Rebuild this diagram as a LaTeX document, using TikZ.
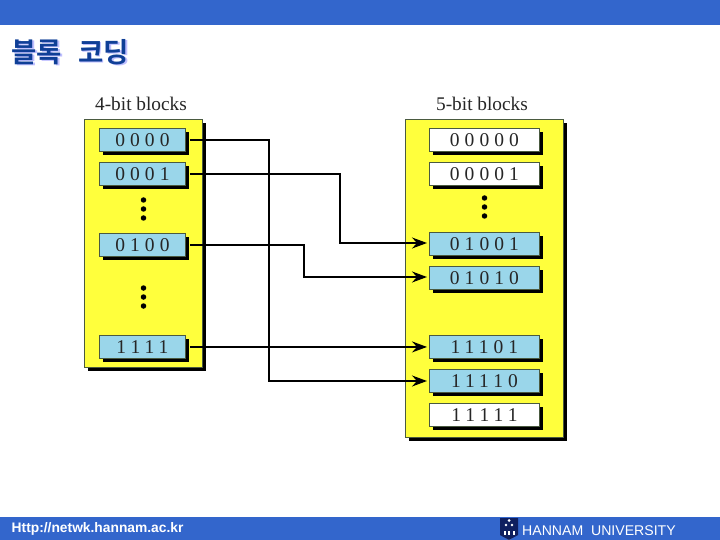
\documentclass[tikz,border=0pt]{standalone}
\usepackage{fontspec}
\setmainfont{Liberation Serif}
\setsansfont{Liberation Sans}
\newfontfamily\cjk{Noto Sans CJK KR}[BoldFont={* Bold}]
\usetikzlibrary{arrows.meta}
\definecolor{barblue}{HTML}{3366CC}
\definecolor{titleblue}{HTML}{0F3F97}
\definecolor{panelyellow}{HTML}{FFFF3C}
\definecolor{boxblue}{HTML}{9AD6EA}
\definecolor{edgegreen}{HTML}{4A5A40}
\definecolor{logonavy}{HTML}{0F1F5F}
\tikzset{
  x=1pt,y=-1pt,
  panel/.style={draw=edgegreen,line width=0.9pt,fill=panelyellow,inner sep=0pt,minimum height=#1,anchor=north west},
  bitbox/.style={draw=edgegreen,line width=0.9pt,fill=#1,inner sep=0pt,anchor=north west,minimum height=23pt,text=black!85,font=\fontsize{19.5}{19.5}\selectfont},
  shade4/.style={fill=black},
  hdr/.style={inner sep=0pt,text=black!85,font=\fontsize{19.3}{19.3}\selectfont},
  link/.style={line width=1.6pt,draw=black},
  arr/.style={link,shorten >=2pt,-{Stealth[length=15pt,width=11pt,inset=5pt]}},
  dotm/.style={circle,fill=black,inner sep=0pt,minimum size=5.5pt},
  headline/.style={anchor=west,inner sep=0pt,font=\cjk\bfseries\fontsize{27.5}{27.5}\selectfont},
}
\newcommand{\titletext}{블록\hspace{10pt} 코딩}
\newcommand{\leftbox}[3]{%
  \fill[shade4] (103,#2+4) rectangle (189,#2+27);
  \node[bitbox=boxblue,minimum width=86pt] (#1) at (99,#2) {\addfontfeature{LetterSpace=26}#3};}
\newcommand{\rightbox}[4]{%
  \fill[shade4] (433,#2+4) rectangle (543,#2+27);
  \node[bitbox=#4,minimum width=110pt] (#1) at (429,#2) {\addfontfeature{LetterSpace=26}#3};}
\begin{document}
\begin{tikzpicture}
\useasboundingbox (0,0) rectangle (720,540);
\fill[white] (0,0) rectangle (720,540);
\fill[barblue] (0,0) rectangle (720,25);
\fill[barblue] (0,517) rectangle (720,540);
% title
\node[headline,text=blue!25!white] (titleshadow) at (12.8,53.3) {\titletext};
\node[headline,text=titleblue] (title) at (11.5,52) {\titletext};
% panels
\fill[black] (88,123) rectangle (206,371);
\node[panel=248pt,minimum width=118pt] (lp) at (84,119) {};
\fill[black] (409,123) rectangle (567,441);
\node[panel=318pt,minimum width=158pt] (rp) at (405,119) {};
\node[hdr] (lh) at (141,104) {4-bit blocks};
\node[hdr] (rh) at (482,104) {5-bit blocks};
% boxes
\leftbox{a0}{128}{0000}
\leftbox{a1}{162}{0001}
\leftbox{a4}{233}{0100}
\leftbox{a15}{335}{1111}
\rightbox{b0}{128}{00000}{white}
\rightbox{b1}{162}{00001}{white}
\rightbox{b9}{232}{01001}{boxblue}
\rightbox{b10}{266}{01010}{boxblue}
\rightbox{b29}{335}{11101}{boxblue}
\rightbox{b30}{369}{11110}{boxblue}
\rightbox{b31}{403}{11111}{white}
% dots
\foreach \n/\px/\py in {d1/143.5/200,d2/143.5/209,d3/143.5/218,d4/143.5/288,d5/143.5/297,d6/143.5/306,d7/484.5/198,d8/484.5/207,d9/484.5/216}
  \node[dotm] (\n) at (\px,\py) {};
% connectors
\coordinate (c0) at (269,140);
\coordinate (c1) at (269,381);
\coordinate (c2) at (340,174);
\coordinate (c3) at (340,243);
\coordinate (c4) at (304,245);
\coordinate (c5) at (304,277);
\draw[arr] (a0.east |- c0) ++(4,0) -- (c0) -- (c1) -- (b30.west |- c1);
\draw[arr] (a1.east |- c2) ++(4,0) -- (c2) -- (c3) -- (b9.west |- c3);
\draw[arr] (a4.east |- c4) ++(4,0) -- (c4) -- (c5) -- (b10.west |- c5);
\draw[arr] ([xshift=4pt]a15.east) -- (b29.west);
% footer
\node[anchor=west,inner sep=0pt,text=white] (url) at (11.5,529) {\sffamily\bfseries\fontsize{13.8}{13.8}\selectfont Http://netwk.hannam.ac.kr};
\node[anchor=west,inner sep=0pt,text=white] (uni) at (522,531) {\sffamily\fontsize{14.1}{14.1}\selectfont HANNAM\ \ UNIVERSITY};
% logo
\fill[white] (500,534) -- (509,540) -- (518,534) -- cycle;
\fill[logonavy] (500,518) -- (518,518) -- (518,535) -- (509,540) -- (500,535) -- cycle;
\fill[white] (509,520.5) circle (1.5);
\fill[white] (506,525) circle (1.3);
\fill[white] (512,525) circle (1.3);
\fill[white] (503.5,531) rectangle (505.5,535);
\fill[white] (507.5,531) rectangle (510,535);
\fill[white] (512.5,531) rectangle (515,535);
\end{tikzpicture}
\end{document}
